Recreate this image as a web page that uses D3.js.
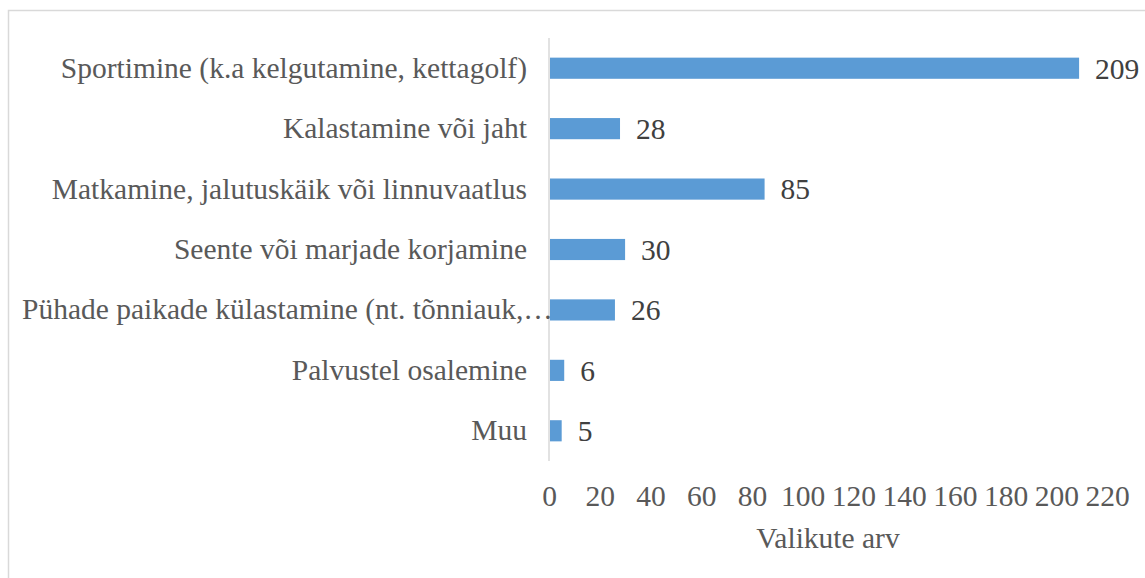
<!DOCTYPE html>
<html>
<head>
<meta charset="utf-8">
<script src="https://cdn.jsdelivr.net/npm/d3@7"></script>
<style>
  body { margin: 0; background: #fff; }
  svg { display: block; font-family: "Liberation Serif", "Times New Roman", serif; }
</style>
</head>
<body>
<svg id="chart" width="1145" height="578"></svg>
<script>
// data
var categories = [
  "Sportimine (k.a kelgutamine, kettagolf)",
  "Kalastamine või jaht",
  "Matkamine, jalutuskäik või linnuvaatlus",
  "Seente või marjade korjamine",
  "Pühade paikade külastamine (nt. tõnniauk,…",
  "Palvustel osalemine",
  "Muu"
];
var values = [209, 28, 85, 30, 26, 6, 5];
var xTicks = [0, 20, 40, 60, 80, 100, 120, 140, 160, 180, 200, 220];
var xTitle = "Valikute arv";

var fontSize = 29.5;
var svg = d3.select("#chart");

// chart border (runs off right and bottom like the screenshot)
svg.append("rect")
  .attr("x", 8.5).attr("y", 10.5)
  .attr("width", 1160).attr("height", 600)
  .attr("fill", "none")
  .attr("stroke", "#d9d9d9")
  .attr("stroke-width", 1.5);

// plot area
var plotLeft = 549, plotRight = 1107, plotTop = 38, plotBottom = 461;

var x = d3.scaleLinear().domain([0, 220]).range([plotLeft, plotRight]);
var y = d3.scaleBand().domain(categories).range([plotTop, plotBottom]).paddingInner(0.65).paddingOuter(0.325);

// vertical axis line
svg.append("line")
  .attr("x1", plotLeft).attr("x2", plotLeft)
  .attr("y1", plotTop).attr("y2", plotBottom)
  .attr("stroke", "#d9d9d9")
  .attr("stroke-width", 1.5);

// bars
svg.selectAll("rect.bar")
  .data(values)
  .enter()
  .append("rect")
  .attr("class", "bar")
  .attr("x", x(0) + 1)
  .attr("y", function (d, i) { return y(categories[i]); })
  .attr("width", function (d) { return x(d) - x(0) - 1; })
  .attr("height", y.bandwidth())
  .attr("fill", "#5b9bd5");

// value labels
svg.selectAll("text.val")
  .data(values)
  .enter()
  .append("text")
  .attr("class", "val")
  .attr("x", function (d) { return x(d) + 16; })
  .attr("y", function (d, i) { return y(categories[i]) + y.bandwidth() / 2; })
  .attr("dy", "0.35em")
  .attr("font-size", fontSize)
  .attr("fill", "#404040")
  .text(function (d) { return d; });

// category labels
var yAxis = d3.axisLeft(y).tickSize(0).tickPadding(22);
var gy = svg.append("g").attr("transform", "translate(" + plotLeft + ",0)").call(yAxis);
gy.select(".domain").remove();
gy.selectAll("text")
  .attr("font-size", fontSize)
  .attr("font-family", "Liberation Serif, Times New Roman, serif")
  .attr("fill", "#595959")
  .each(function () {
    // a label too long for the left margin starts at the margin instead (like the truncated one)
    var w = this.getComputedTextLength();
    var minLeft = 22 - plotLeft;
    if (-22 - w < minLeft) {
      d3.select(this).attr("text-anchor", "start").attr("x", minLeft);
    }
  });

// x axis tick labels
var xAxis = d3.axisBottom(x).tickValues(xTicks).tickSize(0).tickPadding(0);
var gx = svg.append("g").attr("transform", "translate(0,496)").call(xAxis);
gx.select(".domain").remove();
gx.selectAll("text")
  .attr("dy", "0.35em")
  .attr("font-size", fontSize)
  .attr("font-family", "Liberation Serif, Times New Roman, serif")
  .attr("fill", "#595959");

// axis title
svg.append("text")
  .attr("x", (plotLeft + plotRight) / 2)
  .attr("y", 538)
  .attr("dy", "0.35em")
  .attr("text-anchor", "middle")
  .attr("font-size", fontSize)
  .attr("fill", "#595959")
  .text(xTitle);
</script>
</body>
</html>
